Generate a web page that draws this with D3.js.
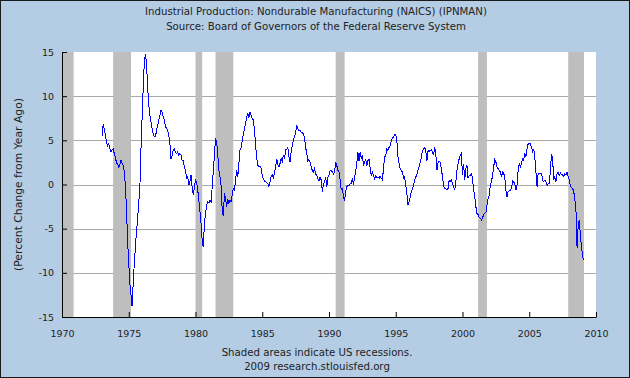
<!DOCTYPE html>
<html><head><meta charset="utf-8">
<script src="https://cdn.jsdelivr.net/npm/d3@7/dist/d3.min.js"></script>
<style>
body{margin:0;background:#fff;}
svg{display:block;}
text{font-family:"DejaVu Sans",Verdana,sans-serif;fill:#222;}
</style>
</head><body>
<svg id="chart" width="630" height="378"></svg>
<script>
// ---------------- data ----------------
const titleLines = ["Industrial Production: Nondurable Manufacturing (NAICS) (IPNMAN)",
                    "Source: Board of Governors of the Federal Reserve System"];
const yLabel = "(Percent Change from Year Ago)";
const footLines = ["Shaded areas indicate US recessions.", "2009 research.stlouisfed.org"];

const firstYear = 1973;   // monthly series starts January 1973
const pctChange = [
  // 1973
  5.5, 6.8, 6.3, 5.6, 4.8, 4.4, 4.6, 4.05, 3.7, 3.9, 4.0, 3.5,
  // 1974
  3.05, 2.45, 2.3, 2.0, 2.2, 2.75, 2.4, 2.2, 1.4, -0.1, -2.9, -6.5,
  // 1975
  -8.9, -11.2, -12.5, -13.8, -11.2, -8.9, -7.0, -5.3, -3.8, -2.0, -0.3, 4.06,
  // 1976
  7.6, 11.0, 13.8, 14.8, 13.6, 11.0, 9.1, 7.8, 7.1, 6.3, 5.75, 5.4,
  // 1977
  5.45, 6.1, 6.7, 7.3, 7.8, 8.4, 8.2, 7.6, 7.3, 6.5, 6.4, 6.1,
  // 1978
  5.6, 4.6, 2.9, 3.3, 3.9, 4.0, 3.7, 3.5, 3.7, 3.3, 3.5, 3.3,
  // 1979
  2.75, 2.75, 2.0, 1.6, 0.7, 0.9, -0.1, 0.3, 1.05, -0.3, -1.2, -0.3,
  // 1980
  0.5, 0.3, -0.6, -1.8, -3.0, -4.4, -6.3, -7.1, -4.4, -3.3, -2.3, -1.95,
  // 1981
  -2.1, -1.75, -1.95, -0.3, 1.6, 3.3, 5.2, 4.8, 3.5, 1.6, 0.9, -0.1,
  // 1982
  -2.9, -3.6, -1.0, -1.6, -2.5, -1.6, -2.1, -1.75, -1.95, -1.2, -0.45, -0.6,
  // 1983
  0.5, 1.6, 0.9, 2.4, 3.9, 4.2, 5.0, 5.7, 6.3, 6.85, 7.6, 8.0,
  // 1984
  7.6, 8.2, 7.8, 7.5, 7.3, 6.2, 4.5, 3.0, 2.2, 2.0, 2.1, 1.8,
  // 1985
  1.0, 0.6, 0.4, 0.3, 0.2, 0.1, -0.25, 0.3, 0.9, 1.1, 0.8, 1.3,
  // 1986
  2.0, 2.9, 2.2, 2.0, 2.4, 2.9, 2.6, 3.3, 2.9, 3.9, 4.0, 4.2,
  // 1987
  3.1, 2.5, 3.7, 4.4, 5.0, 5.4, 5.9, 6.7, 6.3, 6.1, 6.15, 5.9,
  // 1988
  5.9, 5.7, 5.3, 4.2, 3.5, 2.7, 2.8, 2.5, 2.0, 1.6, 1.4, 1.8,
  // 1989
  1.2, 1.05, 0.7, 0.4, 0.85, 0.5, -0.8, 0.1, 0.3, 0.8, -0.25, 0.85,
  // 1990
  1.05, 1.6, 1.6, 1.4, 1.2, 1.4, 2.5, 2.15, 1.6, 1.4, 0.5, -0.6,
  // 1991
  -0.45, -1.4, -1.9, -0.8, -0.25, -0.1, -0.1, 0.1, 0.1, 0.7, -0.1, 0.85,
  // 1992
  1.4, 2.5, 3.65, 2.7, 3.65, 2.9, 3.3, 2.15, 2.5, 2.9, 2.15, 2.7,
  // 1993
  2.9, 1.8, 1.05, 1.4, 1.05, 0.7, 0.95, 0.8, 0.85, 0.7, 0.95, 0.7,
  // 1994
  0.55, 1.8, 3.1, 3.3, 4.0, 3.85, 4.2, 4.4, 4.95, 5.3, 5.3, 5.7,
  // 1995
  5.7, 5.0, 3.1, 2.35, 1.8, 1.6, 1.4, 0.7, 0.85, -0.1, -1.0, -2.3,
  // 1996
  -1.95, -1.4, -0.8, -0.45, -0.1, 0.5, 0.85, 1.15, 1.6, 2.0, 2.5, 3.1,
  // 1997
  3.85, 4.0, 4.2, 3.85, 2.7, 3.85, 3.75, 3.85, 3.9, 3.65, 3.3, 4.2,
  // 1998
  3.5, 1.6, 2.5, 2.65, 2.5, 1.8, 0.85, -0.1, -0.45, -0.45, -0.6, -0.45,
  // 1999
  0.5, 0.3, 0.5, 0.1, -0.25, -0.6, 0.3, 1.6, 2.35, 2.9, 3.3, 3.5,
  // 2000
  1.05, 2.35, 0.5, 1.8, 2.15, 0.7, 1.05, 1.05, 1.2, 0.7, -0.6, -1.4,
  // 2001
  -2.5, -3.3, -3.4, -3.7, -3.8, -4.0, -3.8, -3.4, -3.25, -3.2, -2.3, -1.6,
  // 2002
  -1.2, -0.1, 0.3, 1.0, 2.0, 2.8, 2.55, 2.0, 1.8, 1.6, 1.4, 0.85,
  // 2003
  1.4, 1.25, 0.85, -0.65, -1.4, -0.8, -0.7, -0.65, -0.45, 0.4, 0.3, 0.1,
  // 2004
  -0.65, -0.1, 1.6, 2.35, 2.0, 2.35, 2.9, 2.75, 3.5, 3.1, 4.05, 4.6,
  // 2005
  4.6, 4.6, 4.25, 3.7, 4.05, 3.1, 1.4, -0.25, 1.25, 1.25, 1.3, 1.3,
  // 2006
  0.5, 0.3, 0.5, 0.3, -0.1, 0.1, 0.1, 1.6, 3.5, 2.9, 0.5, 0.85,
  // 2007
  0.3, 1.25, 1.4, 1.05, 1.3, 1.15, 1.05, 0.95, 1.25, 1.05, 1.4, 0.85,
  // 2008
  0.5, -0.25, -0.35, -0.45, -0.8, -1.75, -2.9, -7.2, -4.6, -4.0, -5.9, -7.0,
  // 2009
  -8.2, -8.5
];

const recessions = [
  [1969.92, 1970.87], [1973.83, 1975.17], [1980.0, 1980.5], [1981.5, 1982.83],
  [1990.5, 1991.17], [2001.17, 2001.83], [2007.92, 2009.1]
];
const xTicks = [1970, 1975, 1980, 1985, 1990, 1995, 2000, 2005, 2010];
const yTicks = [-15, -10, -5, 0, 5, 10, 15];
const yGrid = [-10, -5, 0, 5, 10];

// ---------------- drawing ----------------
const W = 630, H = 378;
const plot = {left: 62, right: 596, top: 52, bottom: 317};
const svg = d3.select("#chart");

svg.append("rect").attr("x", 0.5).attr("y", 0.5).attr("width", W - 1).attr("height", H - 1)
  .attr("fill", "#b4cde5").attr("stroke", "#1a1a1a").attr("stroke-width", 1);

const x = d3.scaleLinear().domain([1970, 2010]).range([plot.left, plot.right]);
const y = d3.scaleLinear().domain([-15, 15]).range([plot.bottom, plot.top]);

svg.append("rect").attr("x", plot.left).attr("y", plot.top)
  .attr("width", plot.right - plot.left).attr("height", plot.bottom - plot.top)
  .attr("fill", "#ffffff");

// grid lines
svg.append("g").selectAll("line").data(yGrid).join("line")
  .attr("x1", plot.left).attr("x2", plot.right)
  .attr("y1", d => Math.round(y(d)) + 0.5).attr("y2", d => Math.round(y(d)) + 0.5)
  .attr("stroke", "#a9a9a9").attr("stroke-width", 1);

// recession shading
svg.append("g").selectAll("rect").data(recessions).join("rect")
  .attr("x", d => x(Math.max(d[0], 1970)))
  .attr("width", d => x(Math.min(d[1], 2010)) - x(Math.max(d[0], 1970)))
  .attr("y", plot.top).attr("height", plot.bottom - plot.top)
  .attr("fill", "#bebebe");

// series line
const series = pctChange.map((v, i) => ({t: firstYear + i / 12, v}));
svg.append("path").datum(series)
  .attr("fill", "none").attr("stroke", "#0000ff").attr("stroke-width", 1)
  .attr("shape-rendering", "crispEdges")
  .attr("d", d3.line().x(d => x(d.t)).y(d => y(d.v)));

// axes
const fmt = d => (d < 0 ? "-" + Math.abs(d) : String(d));
const xAxis = d3.axisBottom(x).tickValues(xTicks).tickSizeInner(-5).tickSizeOuter(0)
  .tickPadding(13).tickFormat(d3.format("d"));
const gx = svg.append("g").attr("transform", `translate(0,${plot.bottom})`).call(xAxis);
const yAxis = d3.axisLeft(y).tickValues(yTicks).tickSizeInner(-5).tickSizeOuter(0)
  .tickPadding(8).tickFormat(fmt);
const gy = svg.append("g").attr("transform", `translate(${plot.left},0)`).call(yAxis);
[gx, gy].forEach(g => {
  g.select(".domain").attr("stroke", "#000");
  g.selectAll(".tick line").attr("stroke", "#000");
  g.selectAll("text").attr("font-family", "DejaVu Sans, Verdana, sans-serif")
    .attr("font-size", 9.5).attr("fill", "#222");
});

// titles
svg.append("g").selectAll("text").data(titleLines).join("text")
  .attr("x", 316).attr("y", (d, i) => 15 + i * 15)
  .attr("text-anchor", "middle").attr("font-size", 10.2).text(d => d);

svg.append("text").attr("transform", `translate(22,${(plot.top + plot.bottom) / 2}) rotate(-90)`)
  .attr("text-anchor", "middle").attr("font-size", 10.8).text(yLabel);

svg.append("g").selectAll("text").data(footLines).join("text")
  .attr("x", 317).attr("y", (d, i) => 356 + i * 14)
  .attr("text-anchor", "middle").attr("font-size", 10.2).text(d => d);
</script>
</body></html>
